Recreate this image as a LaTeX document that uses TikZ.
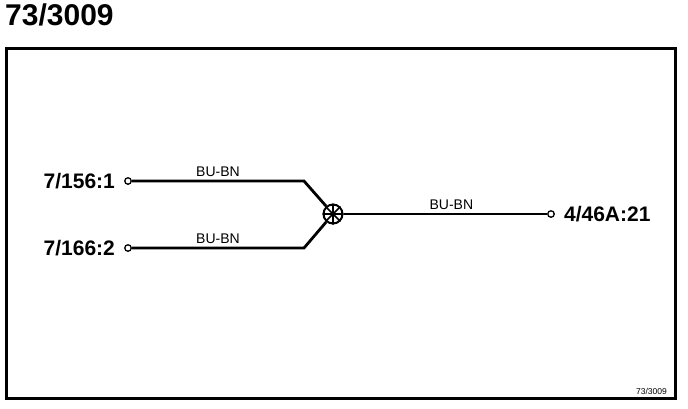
\documentclass[tikz,border=0pt]{standalone}
\usepackage{fontspec}
\setmainfont{Liberation Sans}
\usetikzlibrary{positioning}
\begin{document}
\begin{tikzpicture}[x=1pt,y=-1pt,
   wire/.style={line width=2.8pt},
   pin/.style={draw,circle,line width=1.3pt,inner sep=0pt,minimum size=6.5pt},
   pinlabel/.style={font=\fontsize{21}{21}\selectfont\bfseries,inner sep=0pt},
   colour/.style={font=\fontsize{14}{14}\selectfont,inner sep=0pt,above=3pt},
   splice/.style={draw,circle,line width=2pt,inner sep=0pt,minimum size=19pt}]
\useasboundingbox (0,0) rectangle (688,408);
\node[anchor=north west,inner sep=0pt,font=\fontsize{30}{30}\selectfont\bfseries] (title) at (5,4) {73/3009};
\draw[line width=3pt] (6,48) rectangle (675,398);
\node[anchor=south east,inner sep=0pt,font=\fontsize{8.5}{8.5}\selectfont] (ref) at (667,395) {73/3009};
\node[pin] (a) at (128,181) {};
\node[pin] (b) at (128,248) {};
\node[pin] (c) at (551,214) {};
\node[pinlabel,left=9pt of a] (alabel) {7/156:1};
\node[pinlabel,left=9pt of b] (blabel) {7/166:2};
\node[pinlabel,right=9pt of c] (clabel) {4/46A:21};
\node[splice] (s) at (333,214) {};
\draw[line width=1.6pt] (s.north) -- (s.south) (s.east) -- (s.west)
   (s.45) -- (s.225) (s.135) -- (s.315);
\coordinate (abend) at (304,181);
\coordinate (bbend) at (304,248);
\draw[wire] (a) -- node[colour] {BU-BN} (abend) -- (s);
\draw[wire] (b) -- node[colour] {BU-BN} (bbend) -- (s);
\draw[wire] (s) -- node[colour,pos=0.53] {BU-BN} (c);
\end{tikzpicture}
\end{document}
